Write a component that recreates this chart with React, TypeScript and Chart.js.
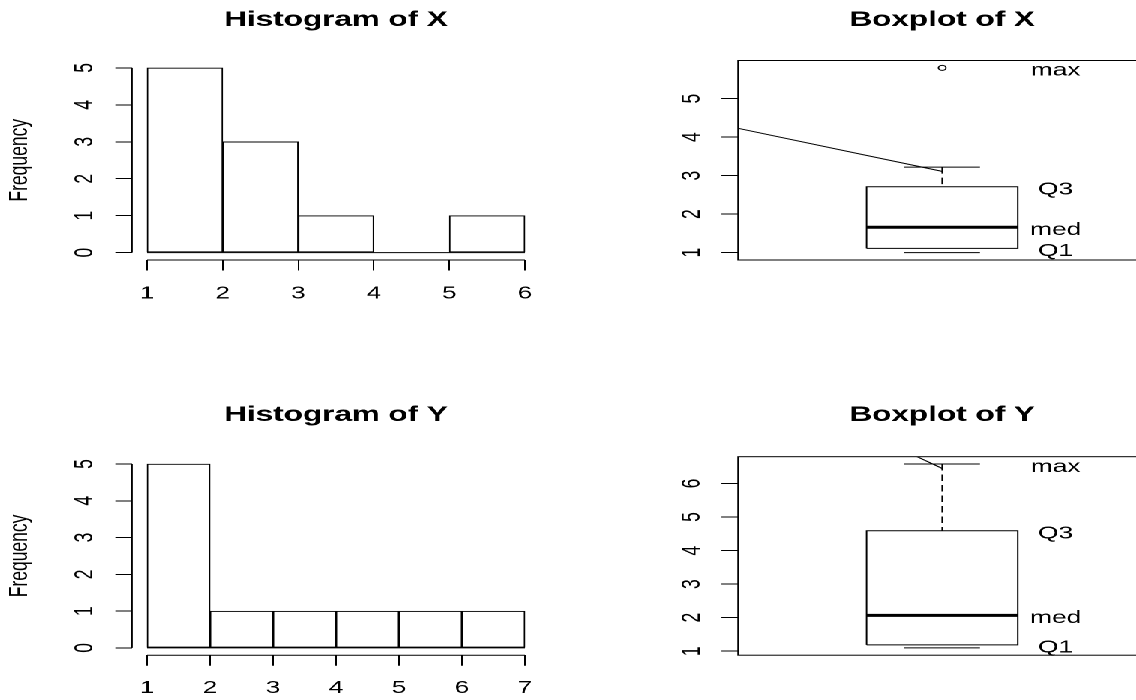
import React, { useEffect, useRef } from "react";
import { Chart, registerables } from "chart.js";

Chart.register(...registerables);

// ---------------- data ----------------
const histXTitle = "Histogram of X";
const histXBreaks = [1, 2, 3, 4, 5, 6];
const histXCounts = [5, 3, 1, 0, 1];
const histXTicksX = [1, 2, 3, 4, 5, 6];
const histXTicksY = [0, 1, 2, 3, 4, 5];

const histYTitle = "Histogram of Y";
const histYBreaks = [1, 2, 3, 4, 5, 6, 7];
const histYCounts = [5, 1, 1, 1, 1, 1];
const histYTicksX = [1, 2, 3, 4, 5, 6, 7];
const histYTicksY = [0, 1, 2, 3, 4, 5];

const freqLabel = "Frequency";

// boxplot stats: [lower whisker, Q1, median, Q3, upper whisker]
const boxXTitle = "Boxplot of X";
const boxXStats = [1.0, 1.11, 1.66, 2.71, 3.22];
const boxXOutliers = [5.8];
const boxXTicksY = [1, 2, 3, 4, 5];
const boxXSegX = [-0.08, 1];
const boxXSegY = [4.23, 3.11];
const boxXLabelValues = [5.8, 2.71, 1.66, 1.11];

const boxYTitle = "Boxplot of Y";
const boxYStats = [1.1, 1.19, 2.07, 4.59, 6.58];
const boxYOutliers: number[] = [];
const boxYTicksY = [1, 2, 3, 4, 5, 6];
const boxYSegX = [0.865, 1];
const boxYSegY = [6.805, 6.45];
const boxYLabelValues = [6.58, 4.59, 2.07, 1.19];

const boxLabelTexts = ["max", "Q3", "med", "Q1"];
const boxXLim = [0, 2];
const boxCenter = 1;
const boxLabelPos = 1.6;

// ---------------- styling / layout ----------------
const X_STRETCH = 1.5;
const FONT = '"Liberation Sans", Arial, Helvetica, sans-serif';
const BASE_SIZE = 17.5;
const TITLE_SIZE = 21;
const TITLE_LINE = TITLE_SIZE * 1.2;
const BOX_HALF = 0.4;
const LABEL_DY = 3;

type Geom = {
  left: number; top: number; width: number; height: number;
  areaLeft: number; areaRight: number; areaTop: number; areaBottom: number;
  titleMid: number; yLabelPad: number; xLabelPad: number;
};

const HIST_W = 378;
const BOX_W = 400;
const BOX_LEFT = 568 / X_STRETCH;
const rows = [
  { top: 0, areaTop: 60.5, areaBottom: 260, titleMid: 20, xLabelPad: 12.6 },
  { top: 350, areaTop: 106.7, areaBottom: 305.2, titleMid: 65, xLabelPad: 12.1 },
];
const histGeom = (r: number): Geom => ({
  left: 0, top: rows[r].top, width: HIST_W, height: 350,
  areaLeft: 87.93, areaRight: 360.07, areaTop: rows[r].areaTop, areaBottom: rows[r].areaBottom,
  titleMid: rows[r].titleMid, yLabelPad: 15.29, xLabelPad: rows[r].xLabelPad,
});
const boxGeom = (r: number): Geom => ({
  left: BOX_LEFT, top: rows[r].top, width: BOX_W, height: 350,
  areaLeft: 113.13, areaRight: 385.27, areaTop: rows[r].areaTop, areaBottom: rows[r].areaBottom,
  titleMid: rows[r].titleMid, yLabelPad: 14.69, xLabelPad: 12,
});

const X_AXIS_H = 40;
const font = { family: FONT, size: BASE_SIZE };

function resetPadding(s: any) {
  s.paddingLeft = 0; s.paddingRight = 0; s.paddingTop = 0; s.paddingBottom = 0;
}

function titleOpts(text: string, g: Geom) {
  return {
    display: true, text, fullSize: false, color: "#000",
    font: { family: FONT, size: TITLE_SIZE, weight: "bold" as const, lineHeight: 1.2 },
    padding: { top: g.titleMid - TITLE_LINE / 2, bottom: g.areaTop - g.titleMid - TITLE_LINE / 2 },
  };
}

function yScaleOpts(g: Geom, ticks: number[], min: number, max: number, withTitle: boolean) {
  return {
    type: "linear", min, max,
    grid: { display: true, drawOnChartArea: false, drawTicks: true, tickLength: 11.1, color: "#000", lineWidth: 1 },
    border: { display: false },
    ticks: { minRotation: 90, maxRotation: 90, crossAlign: "center", padding: g.yLabelPad, color: "#000", font, autoSkip: false },
    title: { display: withTitle, text: freqLabel, color: "#000", font, padding: { top: 2.85, bottom: 0 } },
    afterBuildTicks: (s: any) => { s.ticks = ticks.map((v) => ({ value: v })); },
    afterFit: (s: any) => { s.width = g.areaLeft; resetPadding(s); },
  };
}

const axisLinesPlugin = {
  id: "rAxes",
  afterDraw(chart: any) {
    const { ctx, chartArea: a, scales } = chart;
    const xs = scales.x, ys = scales.y;
    ctx.save();
    ctx.strokeStyle = "#000";
    ctx.lineWidth = 1;
    ctx.beginPath();
    const xt = xs.ticks, yt = ys.ticks;
    ctx.moveTo(xs.getPixelForValue(xt[0].value), a.bottom);
    ctx.lineTo(xs.getPixelForValue(xt[xt.length - 1].value), a.bottom);
    ctx.moveTo(a.left, ys.getPixelForValue(yt[0].value));
    ctx.lineTo(a.left, ys.getPixelForValue(yt[yt.length - 1].value));
    ctx.stroke();
    ctx.restore();
  },
};

const framePlugin = {
  id: "rFrame",
  afterDraw(chart: any) {
    const { ctx, chartArea: a } = chart;
    ctx.save();
    ctx.strokeStyle = "#000";
    ctx.lineWidth = 1;
    ctx.strokeRect(a.left, a.top, a.right - a.left, a.bottom - a.top);
    ctx.restore();
  },
};

function histConfig(title: string, breaks: number[], counts: number[], ticksX: number[], ticksY: number[], g: Geom) {
  const centers = counts.map((_, i) => (breaks[i] + breaks[i + 1]) / 2);
  const x0 = breaks[0], x1 = breaks[breaks.length - 1];
  const xr = x1 - x0;
  const yTop = Math.max(...counts);
  return {
    type: "bar",
    data: {
      datasets: [
        {
          type: "bar",
          data: centers.map((c, i) => ({ x: c, y: counts[i] })),
          backgroundColor: "rgba(0,0,0,0)",
          borderColor: "#000",
          borderWidth: 0.5,
          borderSkipped: false,
          inflateAmount: 0.25,
          barPercentage: 1,
          categoryPercentage: 1,
        },
        {
          type: "line",
          data: [{ x: x0, y: 0 }, { x: x1, y: 0 }],
          borderColor: "#000",
          borderWidth: 1,
          pointRadius: 0,
          fill: false,
        },
      ],
    },
    options: {
      responsive: false, animation: false, devicePixelRatio: 2, events: [],
      layout: { padding: { left: 0, right: g.width - g.areaRight, top: 0, bottom: g.height - g.areaBottom - X_AXIS_H } },
      plugins: { legend: { display: false }, tooltip: { enabled: false }, title: titleOpts(title, g) },
      scales: {
        x: {
          type: "linear", min: x0 - 0.04 * xr, max: x1 + 0.04 * xr, offset: false,
          grid: { display: true, drawOnChartArea: false, drawTicks: true, tickLength: 10.5, color: "#000", lineWidth: 1, offset: false },
          border: { display: false },
          ticks: { color: "#000", font, padding: g.xLabelPad, minRotation: 0, maxRotation: 0, autoSkip: false },
          afterBuildTicks: (s: any) => { s.ticks = ticksX.map((v) => ({ value: v })); },
          afterFit: (s: any) => { s.height = X_AXIS_H; resetPadding(s); },
        },
        y: yScaleOpts(g, ticksY, -0.04 * yTop, yTop * 1.04, true),
      },
    },
    plugins: [axisLinesPlugin],
  };
}

function boxConfig(title: string, stats: number[], outliers: number[], ticksY: number[], segX: number[], segY: number[], labelValues: number[], g: Geom) {
  const [lo, q1, med, q3, hi] = stats;
  const all = [lo, hi, ...outliers];
  const dMin = Math.min(...all), dMax = Math.max(...all);
  const dr = dMax - dMin;
  const xr = boxXLim[1] - boxXLim[0];
  const c = boxCenter;
  const line = (data: any[], extra: any = {}) => ({
    type: "scatter", data, showLine: true, borderColor: "#000", borderWidth: 1, pointRadius: 0, fill: false, tension: 0, ...extra,
  });
  const labelsPlugin = {
    id: "rText",
    afterDraw(chart: any) {
      const { ctx, scales } = chart;
      ctx.save();
      ctx.fillStyle = "#000";
      ctx.font = `${BASE_SIZE}px ${FONT}`;
      ctx.textAlign = "center";
      ctx.textBaseline = "middle";
      boxLabelTexts.forEach((t, i) => {
        ctx.fillText(t, scales.x.getPixelForValue(boxLabelPos), scales.y.getPixelForValue(labelValues[i]) + LABEL_DY);
      });
      ctx.restore();
    },
  };
  return {
    type: "scatter",
    data: {
      datasets: [
        line([{ x: c - BOX_HALF, y: q1 }, { x: c + BOX_HALF, y: q1 }, { x: c + BOX_HALF, y: q3 }, { x: c - BOX_HALF, y: q3 }, { x: c - BOX_HALF, y: q1 }]),
        line([{ x: c - BOX_HALF, y: med }, { x: c + BOX_HALF, y: med }], { borderWidth: 3 }),
        line([{ x: c, y: hi }, { x: c, y: q3 }], { borderDash: [6.5, 4] }),
        line([{ x: c - BOX_HALF / 2, y: hi }, { x: c + BOX_HALF / 2, y: hi }]),
        line([{ x: c - BOX_HALF / 2, y: lo }, { x: c + BOX_HALF / 2, y: lo }]),
        line(segX.map((x, i) => ({ x, y: segY[i] }))),
        {
          type: "scatter", data: outliers.map((y) => ({ x: c, y })), showLine: false,
          pointRadius: 2.5, pointBorderWidth: 1, pointBorderColor: "#000", pointBackgroundColor: "rgba(0,0,0,0)",
        },
      ],
    },
    options: {
      responsive: false, animation: false, devicePixelRatio: 2, events: [],
      layout: { padding: { left: 0, right: g.width - g.areaRight, top: 0, bottom: g.height - g.areaBottom } },
      plugins: { legend: { display: false }, tooltip: { enabled: false }, title: titleOpts(title, g) },
      scales: {
        x: { type: "linear", display: false, min: boxXLim[0] - 0.04 * xr, max: boxXLim[1] + 0.04 * xr },
        y: yScaleOpts(g, ticksY, dMin - 0.04 * dr, dMax + 0.04 * dr, false),
      },
    },
    plugins: [framePlugin, labelsPlugin],
  };
}

function ChartCanvas({ g, make }: { g: Geom; make: () => any }) {
  const ref = useRef<HTMLCanvasElement | null>(null);
  useEffect(() => {
    if (!ref.current) return;
    const chart = new Chart(ref.current, make());
    return () => chart.destroy();
  }, []);
  return (
    <canvas
      ref={ref}
      width={g.width}
      height={g.height}
      style={{ position: "absolute", left: g.left, top: g.top }}
    />
  );
}

export default function App() {
  Chart.defaults.font.family = FONT;
  Chart.defaults.color = "#000";
  const hx = histGeom(0), hy = histGeom(1), bx = boxGeom(0), by = boxGeom(1);
  return (
    <div style={{ position: "fixed", left: 0, top: 0, width: 1136, height: 700, overflow: "hidden", background: "#fff" }}>
      <div
        style={{
          position: "absolute", left: 0, top: 0, width: 1136 / X_STRETCH, height: 700,
          transform: `scaleX(${X_STRETCH})`, transformOrigin: "0 0",
        }}
      >
        <ChartCanvas g={hx} make={() => histConfig(histXTitle, histXBreaks, histXCounts, histXTicksX, histXTicksY, hx)} />
        <ChartCanvas g={bx} make={() => boxConfig(boxXTitle, boxXStats, boxXOutliers, boxXTicksY, boxXSegX, boxXSegY, boxXLabelValues, bx)} />
        <ChartCanvas g={hy} make={() => histConfig(histYTitle, histYBreaks, histYCounts, histYTicksX, histYTicksY, hy)} />
        <ChartCanvas g={by} make={() => boxConfig(boxYTitle, boxYStats, boxYOutliers, boxYTicksY, boxYSegX, boxYSegY, boxYLabelValues, by)} />
      </div>
    </div>
  );
}
